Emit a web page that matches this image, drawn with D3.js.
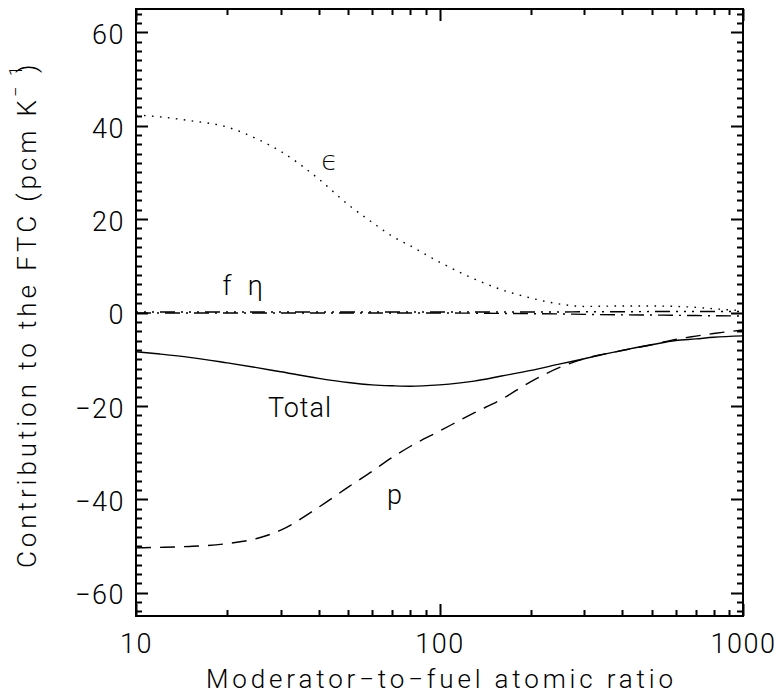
<!DOCTYPE html>
<html>
<head>
<meta charset="utf-8">
<script src="https://cdn.jsdelivr.net/npm/d3@7"></script>
<style>
	body { margin: 0; background: #fff; }
	text { font-family: Roboto, "DejaVu Sans", sans-serif; font-weight: 300; fill: #000; }
</style>
</head>
<body>
<svg id="chart" width="782" height="694"></svg>
<script>

// moderator-to-fuel atomic ratio (sample points)
var ratio = [10, 12, 15, 20, 25, 30, 40, 50, 60, 70, 80, 100, 130, 160, 200, 250, 300, 400, 500, 600, 700, 800, 1000];

// contributions to the FTC, pcm/K
var epsilon = [42.3, 41.9, 41.1, 39.7, 37.2, 34.5, 28.6, 23.1, 19.3, 16.3, 14.3, 10.8, 7.2, 4.9, 3.1, 1.8, 1.3, 1.4, 1.4, 1.3, 1.1, 0.8, 0.4];
var pEsc = [-50.4, -50.3, -50.1, -49.5, -48.4, -46.6, -41.7, -37.4, -34.0, -31.0, -28.7, -25.4, -21.5, -18.6, -14.8, -11.7, -9.9, -8.15, -6.9, -5.75, -5.05, -4.5, -3.75];
var total = [-8.4, -8.9, -9.6, -10.8, -11.8, -12.7, -14.1, -15.0, -15.5, -15.7, -15.8, -15.5, -14.7, -13.6, -12.4, -11.0, -9.9, -8.1, -6.9, -6.0, -5.65, -5.3, -5.0];
var fThermal = [-0.1, -0.1, -0.1, -0.1, -0.1, -0.1, -0.1, -0.1, -0.1, -0.1, -0.1, -0.1, -0.15, -0.2, -0.25, -0.3, -0.4, -0.5, -0.55, -0.6, -0.65, -0.7, -0.75];
var eta = [0.1, 0.1, 0.1, 0.1, 0.1, 0.1, 0.1, 0.1, 0.1, 0.1, 0.1, 0.1, 0.1, 0.1, 0.1, 0.1, 0.15, 0.15, 0.2, 0.2, 0.2, 0.2, 0.2];

var xMajor = [10, 100, 1000];
var yMajor = [-60, -40, -20, 0, 20, 40, 60];

// curve labels, in data coordinates
var labels = [
	{ text: "\u03f5", x: 43.6, y: 30.5 },
	{ text: "f", x: 20.0, y: 3.75 },
	{ text: "\u03b7", x: 24.8, y: 3.75 },
	{ text: "Total", x: 34.7, y: -22.4 },
	{ text: "p", x: 71.3, y: -41.0 }
];

var plot = { left: 136, right: 743, top: 9, bottom: 616 };

var svg = d3.select("#chart");

var x = d3.scaleLog().domain([10, 1000]).range([plot.left, plot.right]);
var y = d3.scaleLinear().domain([-65, 65]).range([plot.bottom, plot.top]);

var xMinor = [];
[10, 100].forEach(function(d) {
	for (var i = 2; i < 10; i++) xMinor.push(d * i);
});
var yMinor = d3.range(-64, 65, 2).filter(function(d) { return d % 20 !== 0; });

// frame
svg.append("path")
	.attr("d", "M" + plot.left + "," + plot.top + "H" + plot.right + "V" + plot.bottom + "H" + plot.left + "Z")
	.style("fill", "none")
	.style("stroke", "#000")
	.style("stroke-width", "2px");

// tick marks pointing into the plot, as one path per edge
function tickPath(values, scale, edge, len, vertical) {
	var d = values.map(function(v) {
		var p = Math.round(scale(v)) + 0.5;
		return vertical
			? "M" + edge + "," + p + "h" + len
			: "M" + p + "," + edge + "v" + len;
	}).join("");
	svg.append("path")
		.attr("d", d)
		.style("fill", "none")
		.style("stroke", "#000")
		.style("stroke-width", "2px");
}

tickPath(xMajor, x, plot.bottom, -12, false);
tickPath(xMinor, x, plot.bottom, -6, false);
tickPath(xMajor, x, plot.top, 12, false);
tickPath(xMinor, x, plot.top, 6, false);
tickPath(yMajor, y, plot.left, 12, true);
tickPath(yMinor, y, plot.left, 6, true);
tickPath(yMajor, y, plot.right, -12, true);
tickPath(yMinor, y, plot.right, -6, true);

// tick labels through the library axes (tick lines hidden)
var xAxis = svg.append("g")
	.attr("transform", "translate(0," + plot.bottom + ")")
	.call(d3.axisBottom(x).tickValues(xMajor).tickSize(0).tickPadding(18).tickFormat(d3.format("d")));
xAxis.select(".domain").remove();
xAxis.selectAll(".tick text")
	.attr("dy", "0.71em")
	.style("font-size", "27px")
	.attr("letter-spacing", "1.5px");

var yAxis = svg.append("g")
	.attr("transform", "translate(" + plot.left + ",0)")
	.call(d3.axisLeft(y).tickValues(yMajor).tickSize(0).tickPadding(11));
yAxis.select(".domain").remove();
yAxis.selectAll(".tick text")
	.attr("dy", "0.42em")
	.style("font-size", "27px")
	.attr("letter-spacing", "1.5px");

// curves
var series = [
	{ values: epsilon, dash: "1.6,6.4" },
	{ values: pEsc, dash: "15,9" },
	{ values: total, dash: null },
	{ values: fThermal, dash: "15,6,2,6" },
	{ values: eta, dash: "2,6,2,6,2,6,15,6" }
];

var line = d3.line()
	.x(function(d) { return x(d[0]); })
	.y(function(d) { return y(d[1]); })
	.curve(d3.curveMonotoneX);

svg.append("g").selectAll("path")
	.data(series)
	.enter().append("path")
	.attr("d", function(s) {
		return line(ratio.map(function(r, i) { return [r, s.values[i]]; }));
	})
	.style("fill", "none")
	.style("stroke", "#000")
	.style("stroke-width", "1.4px")
	.attr("stroke-dasharray", function(s) { return s.dash; });

// curve labels
svg.append("g").selectAll("text")
	.data(labels)
	.enter().append("text")
	.attr("x", function(d) { return x(d.x); })
	.attr("y", function(d) { return y(d.y); })
	.attr("text-anchor", "middle")
	.style("font-size", "27px")
	.attr("letter-spacing", "1px")
	.text(function(d) { return d.text; });

// axis titles
svg.append("text")
	.attr("x", (plot.left + plot.right) / 2)
	.attr("y", 688)
	.attr("text-anchor", "middle")
	.attr("textLength", 467)
	.attr("lengthAdjust", "spacing")
	.style("font-size", "26px")
	.text("Moderator\u2212to\u2212fuel atomic ratio");

// rotated title: x runs upward on screen, so screen y = -x
var yTitle = svg.append("text")
	.attr("transform", "translate(36,0) rotate(-90)")
	.style("font-size", "26px");

yTitle.append("tspan")
	.attr("x", -568)
	.attr("textLength", 468)
	.attr("lengthAdjust", "spacing")
	.text("Contribution to the FTC (pcm K");
yTitle.append("tspan")
	.attr("x", -97).attr("dy", -14)
	.attr("textLength", 31)
	.attr("lengthAdjust", "spacing")
	.style("font-size", "18px")
	.text("\u22121");
yTitle.append("tspan")
	.attr("x", -73).attr("dy", 14)
	.text(")");

</script>
</body>
</html>
